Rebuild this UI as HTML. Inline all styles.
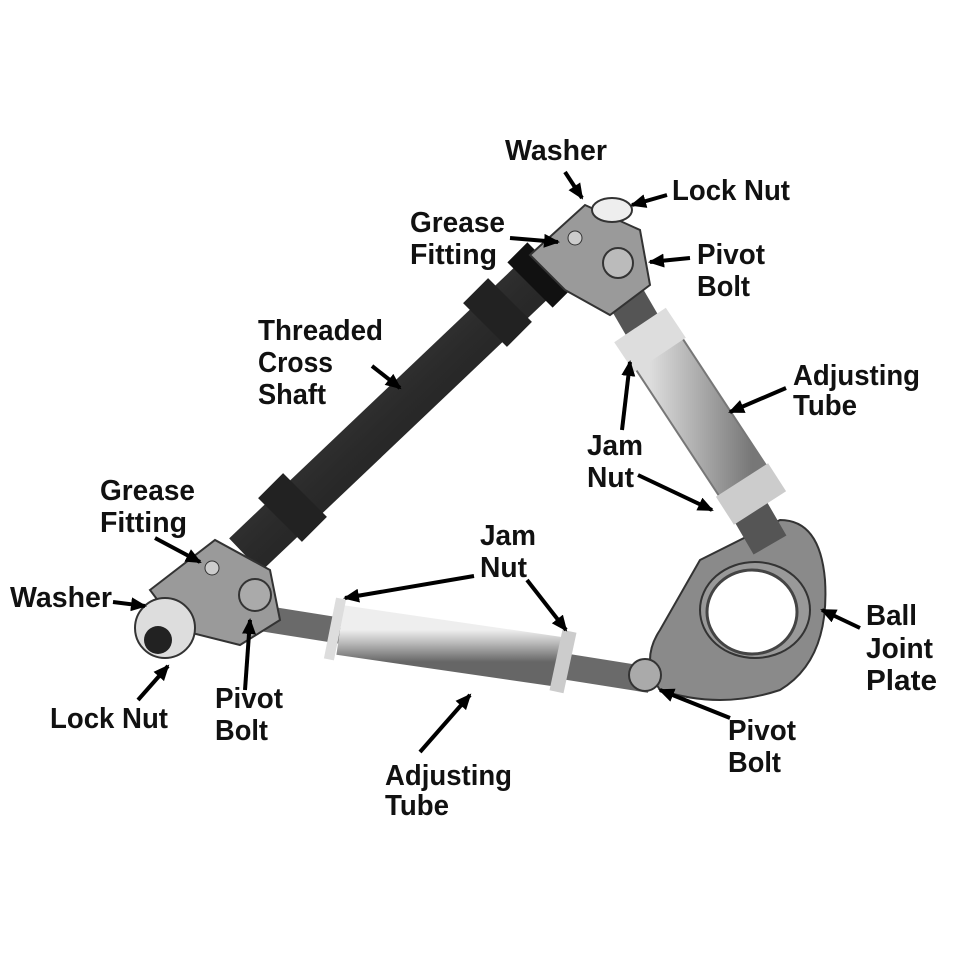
<!DOCTYPE html>
<html><head><meta charset="utf-8"><style>
html,body{margin:0;padding:0;background:#fff}
svg{display:block}
text{font-family:"Liberation Sans",sans-serif;font-weight:bold;font-size:29px;fill:#111}
</style></head><body>
<svg width="960" height="960" viewBox="0 0 960 960" xmlns="http://www.w3.org/2000/svg">
<defs>
<linearGradient id="dk" x1="0" y1="0" x2="1" y2="1"><stop offset="0" stop-color="#555"/><stop offset="0.5" stop-color="#2a2a2a"/><stop offset="1" stop-color="#111"/></linearGradient>
<linearGradient id="lt" x1="0" y1="0" x2="0" y2="1"><stop offset="0" stop-color="#eee"/><stop offset="0.4" stop-color="#bbb"/><stop offset="1" stop-color="#666"/></linearGradient>
<linearGradient id="lt2" x1="0" y1="0" x2="1" y2="0"><stop offset="0" stop-color="#ddd"/><stop offset="0.5" stop-color="#aaa"/><stop offset="1" stop-color="#777"/></linearGradient>
<marker id="ah" markerWidth="16" markerHeight="14" refX="14" refY="7" orient="auto" markerUnits="userSpaceOnUse"><path d="M0,0 L16,7 L0,14 Z" fill="#000"/></marker>
</defs>
<!-- ball joint plate -->
<path d="M700,560 L780,520 Q820,520 825,580 Q830,660 780,690 Q720,710 660,690 Q640,660 660,630 Z" fill="#8a8a8a" stroke="#333" stroke-width="2"/>
<ellipse cx="755" cy="610" rx="55" ry="48" fill="#999" stroke="#333" stroke-width="2"/>
<ellipse cx="752" cy="612" rx="45" ry="42" fill="#fff" stroke="#444" stroke-width="3"/>
<!-- upper right tube -->
<line x1="610" y1="270" x2="770" y2="545" stroke="#555" stroke-width="38"/>
<line x1="650" y1="340" x2="752" y2="495" stroke="#777" stroke-width="58"/>
<line x1="650" y1="340" x2="752" y2="495" stroke="url(#lt2)" stroke-width="54"/>
<line x1="640" y1="325" x2="660" y2="355" stroke="#ddd" stroke-width="62"/>
<line x1="742" y1="480" x2="760" y2="508" stroke="#ccc" stroke-width="62"/>
<!-- threaded shaft -->
<line x1="545" y1="270" x2="245" y2="555" stroke="url(#dk)" stroke-width="46"/>
<line x1="510" y1="300" x2="485" y2="325" stroke="#222" stroke-width="62"/>
<line x1="305" y1="495" x2="280" y2="520" stroke="#222" stroke-width="62"/>
<line x1="550" y1="265" x2="530" y2="285" stroke="#111" stroke-width="64"/>
<!-- top bracket -->
<path d="M530,255 L585,205 L640,230 L650,285 L610,315 L565,290 Z" fill="#9a9a9a" stroke="#333" stroke-width="2"/>
<ellipse cx="612" cy="210" rx="20" ry="12" fill="#eee" stroke="#333" stroke-width="2"/>
<circle cx="618" cy="263" r="15" fill="#bbb" stroke="#333" stroke-width="2"/>
<circle cx="575" cy="238" r="7" fill="#ccc" stroke="#333"/>
<!-- lower tube -->
<line x1="210" y1="610" x2="650" y2="680" stroke="#6a6a6a" stroke-width="26"/>
<line x1="340" y1="630" x2="560" y2="662" stroke="url(#lt)" stroke-width="50"/>
<line x1="330" y1="628" x2="340" y2="630" stroke="#ddd" stroke-width="62"/>
<line x1="556" y1="660" x2="570" y2="663" stroke="#ccc" stroke-width="62"/>
<!-- left bracket -->
<path d="M150,590 L215,540 L270,570 L280,620 L240,645 L180,630 Z" fill="#9a9a9a" stroke="#333" stroke-width="2"/>
<circle cx="165" cy="628" r="30" fill="#ddd" stroke="#333" stroke-width="2"/>
<circle cx="158" cy="640" r="14" fill="#222"/>
<circle cx="255" cy="595" r="16" fill="#aaa" stroke="#333" stroke-width="2"/>
<circle cx="212" cy="568" r="7" fill="#ccc" stroke="#333"/>
<circle cx="645" cy="675" r="16" fill="#aaa" stroke="#333" stroke-width="2"/>
<!-- arrows -->
<g stroke="#000" stroke-width="4" fill="none" marker-end="url(#ah)">
<line x1="565" y1="172" x2="582" y2="198"/>
<line x1="667" y1="195" x2="632" y2="205"/>
<line x1="510" y1="238" x2="558" y2="242"/>
<line x1="690" y1="258" x2="650" y2="262"/>
<line x1="372" y1="366" x2="400" y2="388"/>
<line x1="786" y1="388" x2="730" y2="412"/>
<line x1="622" y1="430" x2="630" y2="362"/>
<line x1="638" y1="475" x2="712" y2="510"/>
<line x1="155" y1="538" x2="200" y2="562"/>
<line x1="113" y1="602" x2="145" y2="606"/>
<line x1="474" y1="576" x2="345" y2="598"/>
<line x1="527" y1="580" x2="566" y2="630"/>
<line x1="860" y1="628" x2="822" y2="610"/>
<line x1="138" y1="700" x2="168" y2="666"/>
<line x1="245" y1="690" x2="250" y2="620"/>
<line x1="730" y1="718" x2="660" y2="690"/>
<line x1="420" y1="752" x2="470" y2="695"/>
</g>
<!-- labels -->
<g>
<text x="505" y="160" textLength="102" lengthAdjust="spacingAndGlyphs">Washer</text>
<text x="672" y="200" textLength="118" lengthAdjust="spacingAndGlyphs">Lock Nut</text>
<text x="410" y="232" textLength="95" lengthAdjust="spacingAndGlyphs">Grease</text><text x="410" y="264" textLength="87" lengthAdjust="spacingAndGlyphs">Fitting</text>
<text x="697" y="264" textLength="68" lengthAdjust="spacingAndGlyphs">Pivot</text><text x="697" y="296" textLength="53" lengthAdjust="spacingAndGlyphs">Bolt</text>
<text x="258" y="340" textLength="125" lengthAdjust="spacingAndGlyphs">Threaded</text><text x="258" y="372" textLength="75" lengthAdjust="spacingAndGlyphs">Cross</text><text x="258" y="404" textLength="68" lengthAdjust="spacingAndGlyphs">Shaft</text>
<text x="793" y="385" textLength="127" lengthAdjust="spacingAndGlyphs">Adjusting</text><text x="793" y="415" textLength="64" lengthAdjust="spacingAndGlyphs">Tube</text>
<text x="587" y="455" textLength="56" lengthAdjust="spacingAndGlyphs">Jam</text><text x="587" y="487" textLength="47" lengthAdjust="spacingAndGlyphs">Nut</text>
<text x="100" y="500" textLength="95" lengthAdjust="spacingAndGlyphs">Grease</text><text x="100" y="532" textLength="87" lengthAdjust="spacingAndGlyphs">Fitting</text>
<text x="480" y="545" textLength="56" lengthAdjust="spacingAndGlyphs">Jam</text><text x="480" y="577" textLength="47" lengthAdjust="spacingAndGlyphs">Nut</text>
<text x="10" y="607" textLength="102" lengthAdjust="spacingAndGlyphs">Washer</text>
<text x="866" y="625" textLength="51" lengthAdjust="spacingAndGlyphs">Ball</text><text x="866" y="658" textLength="67" lengthAdjust="spacingAndGlyphs">Joint</text><text x="866" y="690" textLength="71" lengthAdjust="spacingAndGlyphs">Plate</text>
<text x="50" y="728" textLength="118" lengthAdjust="spacingAndGlyphs">Lock Nut</text>
<text x="215" y="708" textLength="68" lengthAdjust="spacingAndGlyphs">Pivot</text><text x="215" y="740" textLength="53" lengthAdjust="spacingAndGlyphs">Bolt</text>
<text x="728" y="740" textLength="68" lengthAdjust="spacingAndGlyphs">Pivot</text><text x="728" y="772" textLength="53" lengthAdjust="spacingAndGlyphs">Bolt</text>
<text x="385" y="785" textLength="127" lengthAdjust="spacingAndGlyphs">Adjusting</text><text x="385" y="815" textLength="64" lengthAdjust="spacingAndGlyphs">Tube</text>
</g>
</svg>
</body></html>
